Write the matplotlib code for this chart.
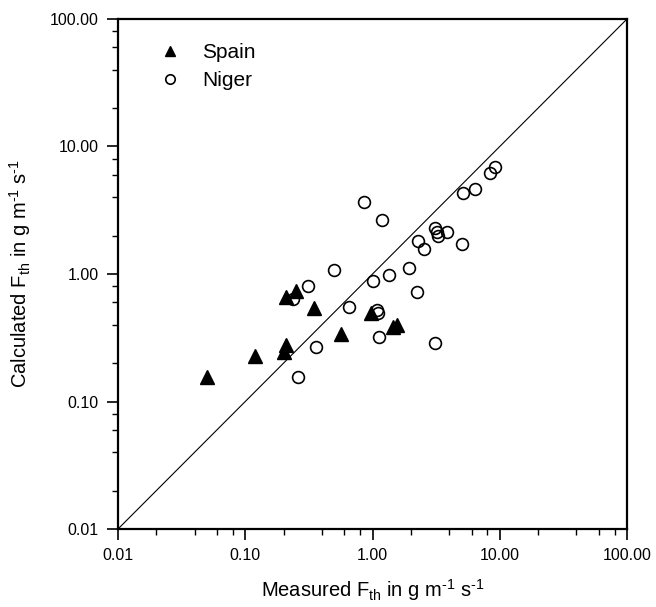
import matplotlib
matplotlib.use("Agg")
import matplotlib.pyplot as plt
from matplotlib.ticker import LogLocator, FixedLocator, FormatStrFormatter, NullFormatter

plt.rcParams['font.family'] = ['Liberation Sans', 'DejaVu Sans']
plt.rcParams['mathtext.default'] = 'regular'

spain_x = [0.05, 0.12, 0.21, 0.20, 0.21, 0.25, 0.35, 0.565, 0.97, 1.46, 1.55]
spain_y = [0.155, 0.229, 0.279, 0.246, 0.656, 0.736, 0.541, 0.336, 0.492, 0.386, 0.398]

niger_x = [0.851, 1.18, 0.498, 0.311, 0.236, 0.653, 1.0, 1.077, 1.096, 1.12, 0.359,
           0.260, 1.35, 1.93, 2.23, 2.29, 2.55, 3.09, 3.19, 3.28, 3.86, 5.01, 5.13,
           6.34, 8.36, 9.2, 3.08]
niger_y = [3.65, 2.64, 1.07, 0.805, 0.641, 0.551, 0.887, 0.522, 0.492, 0.322, 0.266,
           0.156, 0.977, 1.11, 0.718, 1.82, 1.56, 2.28, 2.15, 1.99, 2.15, 1.72, 4.29,
           4.67, 6.16, 6.95, 0.286]

major_ticks = [0.01, 0.1, 1, 10, 100]
axis_min, axis_max = 0.01, 100

fig = plt.figure(figsize=(6.56, 6.07), dpi=100)
ax = fig.add_axes([0.1799, 0.1285, 0.7759, 0.8402])

ax.plot([axis_min, axis_max], [axis_min, axis_max], color='black', lw=0.8, zorder=1)
ax.plot(spain_x, spain_y, linestyle='none', marker='^', markersize=9.5,
        color='black', label='Spain', zorder=3)
ax.plot(niger_x, niger_y, linestyle='none', marker='o', markersize=8.5,
        markerfacecolor='none', markeredgecolor='black', markeredgewidth=1.2,
        label='Niger', zorder=2)

ax.set_xscale('log')
ax.set_yscale('log')
ax.set_xlim(axis_min, axis_max)
ax.set_ylim(axis_min, axis_max)

for a in (ax.xaxis, ax.yaxis):
    a.set_major_locator(FixedLocator(major_ticks))
    a.set_major_formatter(FormatStrFormatter('%.2f'))
    a.set_minor_locator(LogLocator(base=10, subs=(2, 4, 6, 8)))
    a.set_minor_formatter(NullFormatter())

ax.tick_params(which='major', direction='out', length=8, width=1.2,
               labelsize=11.5, top=False, right=False, pad=6)
ax.tick_params(which='minor', direction='out', length=4.5, width=1.0,
               top=False, right=False)
for s in ax.spines.values():
    s.set_linewidth(1.6)

hy = '\u2010'
ax.set_xlabel('Measured F$_{th}$ in g m$^{' + hy + '1}$ s$^{' + hy + '1}$', fontsize=14.5, labelpad=10)
ax.set_ylabel('Calculated F$_{th}$ in g m$^{' + hy + '1}$ s$^{' + hy + '1}$', fontsize=14.5, labelpad=12)

leg = ax.legend(loc='upper left', bbox_to_anchor=(0.035, 0.99), frameon=False,
                fontsize=15, handletextpad=0.8, labelspacing=0.45, markerscale=0.8,
                handlelength=1.5)

fig.savefig('out.png', dpi=100)
